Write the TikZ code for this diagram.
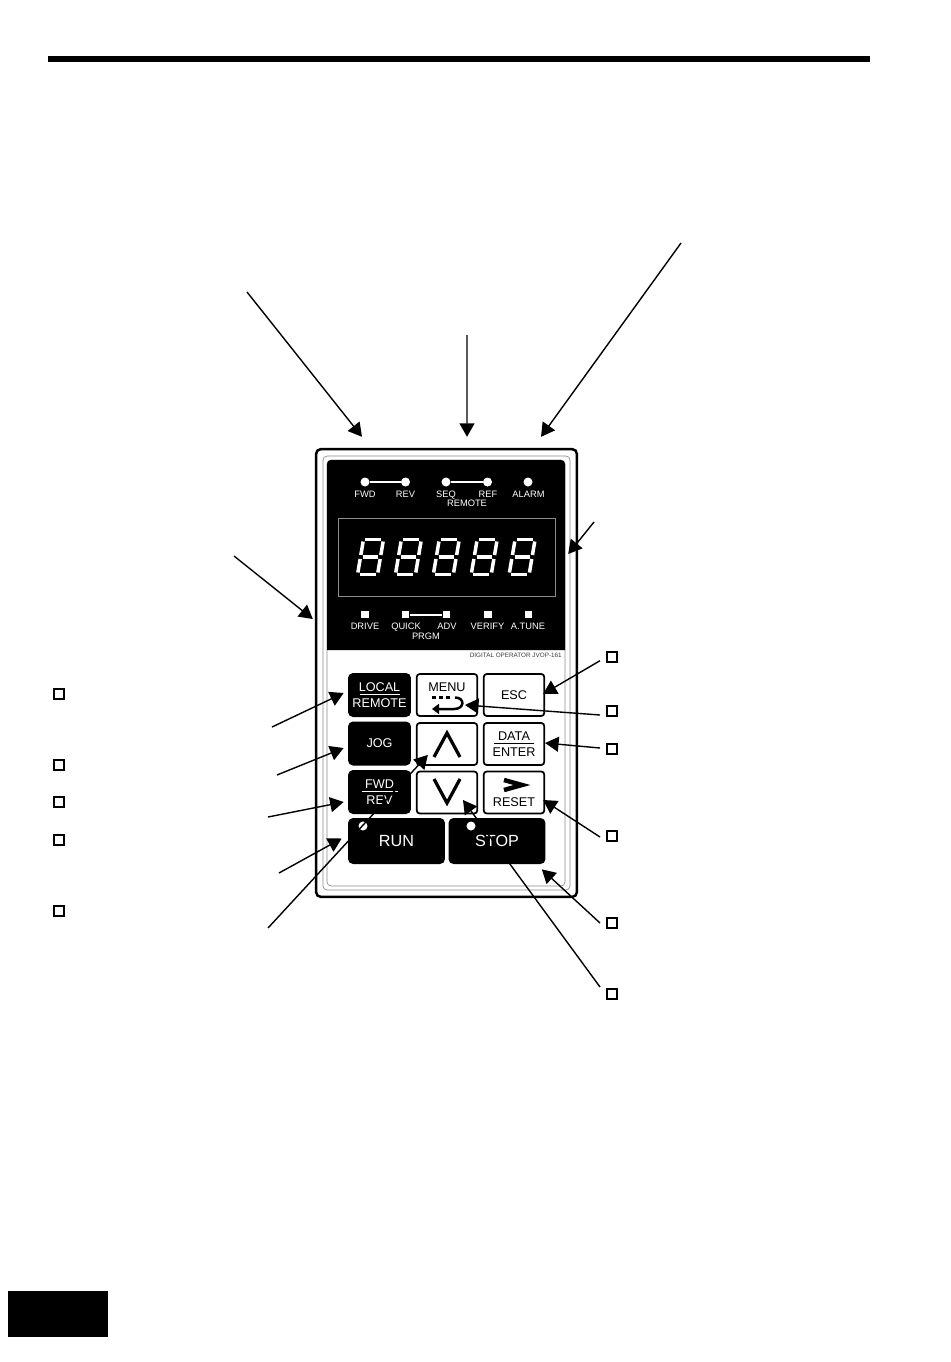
\documentclass[tikz,border=0pt]{standalone}
\usepackage{xcolor}
\usepackage{fontspec}
\setsansfont{Liberation Sans}
\usetikzlibrary{arrows.meta, positioning}
\definecolor{framegray}{HTML}{8C8C8C}
\definecolor{printgray}{HTML}{3A3A3A}
\tikzset{
  keyblk/.style={rectangle, rounded corners=0.1cm, fill=black, text=white,
    font=\sffamily\fontsize{7.2}{9}\selectfont, minimum width=1.26cm, minimum height=0.88cm,
    align=center, inner sep=0pt},
  keywht/.style={rectangle, rounded corners=0.06cm, draw=black, line width=0.035cm, fill=white,
    font=\sffamily\fontsize{7.2}{9}\selectfont, minimum width=1.21cm, minimum height=0.84cm,
    align=center, inner sep=0pt},
  keybig/.style={keyblk, font=\sffamily\fontsize{9.2}{11}\selectfont, minimum width=1.94cm, minimum height=0.92cm},
  keylbl/.style={font=\sffamily\fontsize{7.2}{9}\selectfont, inner sep=0pt},
  led/.style={circle, fill=white, minimum size=0.18cm, inner sep=0pt},
  ledsq/.style={rectangle, fill=white, minimum size=0.15cm, inner sep=0pt},
  ledbar/.style={draw=white, line width=0.04cm},
  pnl/.style={font=\sffamily\fontsize{5.3}{6}\selectfont, text=white, inner sep=0pt,
    text height=0.135cm, text depth=0pt},
  chev/.style={draw=black, line width=0.065cm, miter limit=10},
  frm/.style={rectangle, draw=framegray, line width=0.014cm, rounded corners=0.08cm, inner sep=0pt},
  box/.style={rectangle, draw=black, line width=0.03cm, fill=white, minimum size=0.2cm, inner sep=0pt},
  ar/.style={-{Triangle[length=0.27cm, width=0.3cm]}, draw=black, line width=0.028cm},
}
\newcommand{\KT}[3]{\underline{\makebox[#3]{#1}}\\#2}
\newcommand{\DIG}[1]{%
  \begin{scope}[shift={(#1,557)}, xslant=0.17, white, line width=0.07cm]
    \draw (-8,-17.5) -- (8,-17.5);
    \draw (-10,-15.5) -- (-10,-2);
    \draw (10,-15.5) -- (10,-2);
    \draw (-7.5,0) -- (7.5,0);
    \draw (-10,2) -- (-10,15.5);
    \draw (10,2) -- (10,15.5);
    \draw (-8,17.5) -- (8,17.5);
  \end{scope}%
}

\begin{document}
\begin{tikzpicture}[x=0.02cm, y=-0.02cm, every node/.style={font=\sffamily}]
\useasboundingbox (0,0) rectangle (950,1362);

\fill[black] (48,56) rectangle (870,62);
\fill[black] (8,1290.5) rectangle (108,1337);

\node[rectangle, draw=black, line width=0.05cm, rounded corners=0.1cm, minimum width=5.22cm, minimum height=8.96cm, inner sep=0pt] (body) at (446.5,673) {};
\node[frm, minimum width=4.94cm, minimum height=8.68cm] (frmA) at (446.5,673) {};
\node[frm, minimum width=4.76cm, minimum height=8.52cm] (frmB) at (446,673) {};
\fill[black] (327,650) [rounded corners=0.08cm] -- (327,460) -- (565,460) [sharp corners] -- (565,650) -- cycle;
\node[rectangle, draw=framegray, line width=0.012cm, minimum width=4.34cm, minimum height=1.56cm, inner sep=0pt] (disp) at (446.5,557) {};

\DIG{370.5}
\DIG{408.4}
\DIG{446.3}
\DIG{484.2}
\DIG{522.1}

\node[led] (ledFWD) at (365,482) {};
\node[led] (ledREV) at (405.5,482) {};
\node[led] (ledSEQ) at (446,482) {};
\node[led] (ledREF) at (487.5,482) {};
\node[led] (ledALM) at (528,482) {};
\draw[ledbar] (ledFWD) -- (ledREV);
\draw[ledbar] (ledSEQ) -- (ledREF);
\node[pnl] (lFWD) at (365,494) {FWD};
\node[pnl] (lREV) at (405.5,494) {REV};
\node[pnl] (lSEQ) at (446,494) {SEQ};
\node[pnl] (lREF) at (488,494) {REF};
\node[pnl] (lALM) at (528.5,494) {ALARM};
\node[pnl] (lREM) at (467,503.5) {REMOTE};

\node[ledsq] (sqDRV) at (365,614.5) {};
\node[ledsq] (sqQCK) at (405.5,614.5) {};
\node[ledsq] (sqADV) at (446.5,614.5) {};
\node[ledsq] (sqVFY) at (488,614.5) {};
\node[ledsq] (sqTUN) at (528.5,614.5) {};
\draw[ledbar] (sqQCK) -- (sqADV);
\node[pnl] (lDRV) at (365,626) {DRIVE};
\node[pnl] (lQCK) at (406,626) {QUICK};
\node[pnl] (lADV) at (447,626) {ADV};
\node[pnl] (lVFY) at (487.5,626) {VERIFY};
\node[pnl] (lTUN) at (528,626) {A.TUNE};
\node[pnl] (lPRG) at (426,636) {PRGM};

\node[font=\sffamily\fontsize{3.6}{4}\selectfont, text=printgray, anchor=east, inner sep=0pt] (lOPR) at (562,655) {DIGITAL OPERATOR JVOP-161};

\node[keyblk] (LOCAL) at (379.5,695) {\KT{LOCAL}{REMOTE}{0.8cm}};
\node[keywht] (MENU) at (447,695) {};
\node[keywht] (ESC) at (514,695) {ESC};
\node[keyblk] (JOG) at (379.5,743.5) {JOG};
\node[keywht] (UP) at (447,744) {};
\node[keywht] (DATA) at (514,744) {\KT{DATA}{ENTER}{0.8cm}};
\node[keyblk] (FWD) at (379.5,792) {\KT{FWD}{REV}{0.72cm}};
\node[keywht] (DOWN) at (447,792.5) {};
\node[keywht] (RESET) at (514,792.5) {};
\node[keybig] (RUN) at (396.5,841) {RUN};
\node[keybig] (STOP) at (497,841) {STOP};
\node[led] (ledRUN) at (363,826) {};
\node[led] (ledSTOP) at (471,826) {};

\node[keylbl] (lMENU) at (447,687) {MENU};
\node[keylbl] (lRESET) at (514,802) {RESET};
\draw[black, line width=0.06cm, dash pattern=on 0.08cm off 0.06cm] (432,697.5) -- (452,697.5);
\draw[black, line width=0.05cm, -{Triangle[length=0.14cm, width=0.2cm]}] (455,697.5) .. controls (465,697.5) and (465,709) .. (454,709) -- (432,709);
\draw[chev] (434,757) -- (447,733) -- (460,757);
\draw[chev] (434,779) -- (447,803) -- (460,779);
\draw[chev, line width=0.09cm] (504,780) -- (522,785) -- (504,790);

\node[box] (bL1) at (59,694) {};
\node[box] (bL2) at (59,765) {};
\node[box] (bL3) at (59,802) {};
\node[box] (bL4) at (59,840) {};
\node[box] (bL5) at (59,911) {};
\node[box] (bR1) at (612,657) {};
\node[box] (bR2) at (612,711) {};
\node[box] (bR3) at (612,749) {};
\node[box] (bR4) at (612,836) {};
\node[box] (bR5) at (612,923) {};
\node[box] (bR6) at (612,994) {};

\coordinate (tailA) at (247,292);
\coordinate (tailB) at (467,335);
\coordinate (tailC) at (681,243);
\coordinate (tailD) at (594,522);
\coordinate (tailE) at (234,556);
\coordinate (tailF) at (272,727);
\coordinate (tailG) at (277,775);
\coordinate (tailH) at (268,817);
\coordinate (tailI) at (279,873);
\coordinate (tailJ) at (268,928);
\coordinate (tailK) at (600,660.7);
\coordinate (tailL) at (600,715);
\coordinate (tailM) at (600,748);
\coordinate (tailN) at (600,837);
\coordinate (tailO) at (600,923);
\coordinate (tailP) at (600,987);

\draw[ar] (tailA) -- ([shift={(-84.5,-11)}]body.north);
\draw[ar] (tailB) -- ([shift={(20.5,-11)}]body.north);
\draw[ar] (tailC) -- ([shift={(94.5,-11)}]body.north);
\draw[ar] (tailD) -- ([shift={(-10,-119)}]body.east);
\draw[ar] (tailE) -- ([shift={(-2,-54)}]body.west);
\draw[ar] (tailF) -- ([shift={(-4,-2)}]LOCAL.west);
\draw[ar] (tailG) -- ([shift={(-4,4.5)}]JOG.west);
\draw[ar] (tailH) -- ([shift={(-4,10)}]FWD.west);
\draw[ar] (tailI) -- ([shift={(-6,-2.5)}]RUN.west);
\draw[ar] (tailJ) -- ([shift={(12,-11)}]UP.south west);
\draw[ar] (tailK) -- ([shift={(-2,-1)}]ESC.east);
\draw[ar] (tailL) -- ([shift={(18,10)}]MENU.center);
\draw[ar] (tailM) -- ([shift={(0,-1)}]DATA.east);
\draw[ar] (tailN) -- ([shift={(-2,7.5)}]RESET.east);
\draw[ar] (tailO) -- ([shift={(-4,5)}]STOP.south east);
\draw[ar] (tailP) -- ([shift={(16,7.5)}]DOWN.center);

\end{tikzpicture}
\end{document}
